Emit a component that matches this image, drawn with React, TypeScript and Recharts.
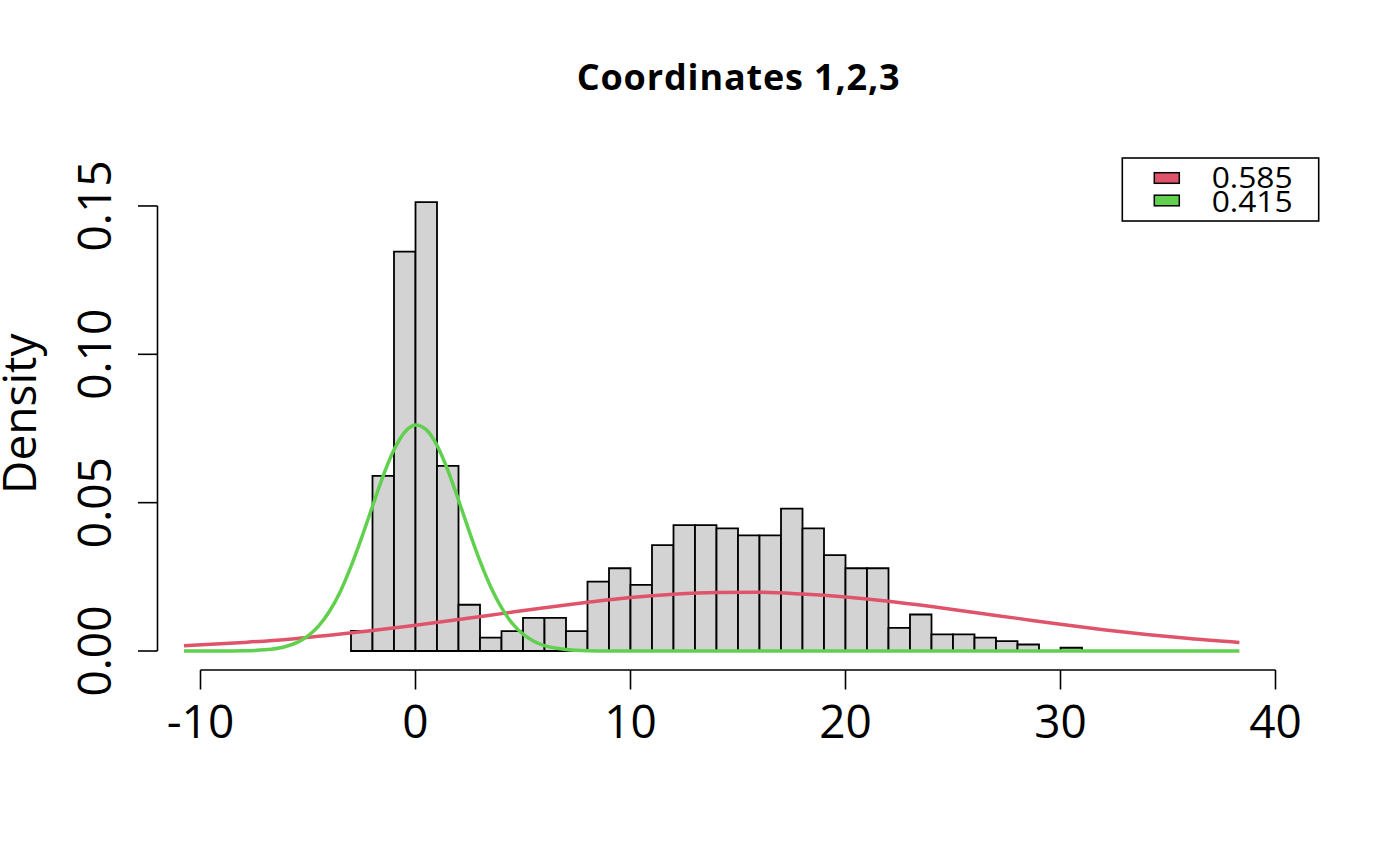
import { ComposedChart, XAxis, YAxis, Line, ReferenceArea, ReferenceLine } from 'recharts'

// histogram breaks and densities
const binEdges = [-3, -2, -1, 0, 1, 2, 3, 4, 5, 6, 7, 8, 9, 10, 11, 12, 13, 14, 15, 16, 17, 18, 19, 20, 21, 22, 23, 24, 25, 26, 27, 28, 29, 30, 31]
const binDensity = [
    0.0068, 0.0590, 0.1346, 0.1513, 0.0624, 0.0156, 0.0045, 0.0067, 0.0112, 0.0112,
    0.0067, 0.0234, 0.0279, 0.0223, 0.0357, 0.0424, 0.0424, 0.0413, 0.0390, 0.0390,
    0.0480, 0.0413, 0.0323, 0.0279, 0.0279, 0.0078, 0.0123, 0.0056, 0.0056, 0.0045,
    0.0033, 0.0022, 0, 0.0011,
]

// component curves
const redX = [-10.77, -8, -6, -4, -2, 0, 2, 4, 6, 8, 10, 12, 14, 16, 18, 20, 22, 24, 26, 28, 30, 32, 34, 36, 38.32]
const redY = [0.0018, 0.0029, 0.0039, 0.0053, 0.0069, 0.0087, 0.0106, 0.0126, 0.0146, 0.0164, 0.0180, 0.0191, 0.0197, 0.0198, 0.0192, 0.0182, 0.0168, 0.0150, 0.0130, 0.0110, 0.0090, 0.0072, 0.0056, 0.0042, 0.0029]

const greenX = [-10.77, -9, -8, -7, -6, -5.5, -5, -4.5, -4, -3.5, -3, -2.5, -2, -1.5, -1, -0.5, 0, 0.5, 1, 1.5, 2, 2.5, 3, 3.5, 4, 4.5, 5, 5.5, 6, 7, 8, 9, 12, 20, 30, 38.32]
const greenY = [0, 0.00001, 0.00008, 0.00039, 0.0016, 0.0029, 0.0051, 0.0085, 0.0134, 0.0200, 0.0285, 0.0383, 0.0488, 0.0591, 0.0678, 0.0738, 0.0762, 0.0746, 0.0693, 0.0610, 0.0509, 0.0403, 0.0303, 0.0216, 0.0146, 0.0093, 0.0057, 0.0033, 0.0018, 0.0005, 0.0001, 0, 0, 0, 0, 0]

const xTicks = [-10, 0, 10, 20, 30, 40]
const yTicks = [0, 0.05, 0.1, 0.15]

const legendLabels = ['0.585', '0.415']
const legendColors = ['#DF536B', '#61D04F']

const FONT = '"Open Sans", sans-serif'

const redData = redX.map((x, i) => ({ x, y: redY[i] }))
const greenData = greenX.map((x, i) => ({ x, y: greenY[i] }))

const XTick = (p: any) => (
    <g>
        <line x1={p.x} x2={p.x} y1={p.y} y2={p.y + 19.5} stroke="#000" strokeWidth={1.6} />
        <text x={p.x} y={p.y + 68} textAnchor="middle" fontFamily={FONT} fontSize={46} fill="#000">
            {p.payload.value}
        </text>
    </g>
)

const YTick = (p: any) => (
    <g>
        <line x1={p.x} x2={p.x - 19.5} y1={p.y} y2={p.y} stroke="#000" strokeWidth={1.6} />
        <text
            x={p.x - 46.5}
            y={p.y}
            transform={`rotate(-90, ${p.x - 46.5}, ${p.y})`}
            textAnchor="middle"
            fontFamily={FONT}
            fontSize={46}
            fill="#000"
        >
            {Number(p.payload.value).toFixed(2)}
        </text>
    </g>
)

export default function App() {
    return (
        <div style={{ position: 'absolute', left: 0, top: 0, width: 1400, height: 866, background: '#fff' }}>
            <ComposedChart width={1400} height={866} margin={{ top: 157.3, right: 81.5, bottom: 0, left: 0 }}>
                <XAxis
                    dataKey="x"
                    type="number"
                    domain={[-12, 42]}
                    ticks={xTicks}
                    interval={0}
                    allowDataOverflow
                    height={196}
                    axisLine={false}
                    tickLine={false}
                    tickSize={0}
                    tickMargin={0}
                    tick={XTick}
                />
                <YAxis
                    type="number"
                    domain={[-0.0064, 0.1664]}
                    ticks={yTicks}
                    interval={0}
                    allowDataOverflow
                    width={157.5}
                    axisLine={false}
                    tickLine={false}
                    tickSize={0}
                    tickMargin={0}
                    tick={YTick}
                />
                {binDensity.map((d, i) => (
                    <ReferenceArea
                        key={`bin-${i}`}
                        x1={binEdges[i]}
                        x2={binEdges[i + 1]}
                        y1={0}
                        y2={d}
                        fill="#D3D3D3"
                        fillOpacity={1}
                        stroke="#000"
                        strokeWidth={1.8}
                        ifOverflow="visible"
                    />
                ))}
                <ReferenceLine
                    segment={[{ x: xTicks[0], y: -0.0064 }, { x: xTicks[xTicks.length - 1], y: -0.0064 }]}
                    stroke="#000"
                    strokeWidth={1.6}
                    ifOverflow="visible"
                />
                <ReferenceLine
                    segment={[{ x: -12, y: yTicks[0] }, { x: -12, y: yTicks[yTicks.length - 1] }]}
                    stroke="#000"
                    strokeWidth={1.6}
                    ifOverflow="visible"
                />
                <Line data={redData} dataKey="y" type="monotone" stroke={legendColors[0]} strokeWidth={3.5} dot={false} isAnimationActive={false} />
                <Line data={greenData} dataKey="y" type="monotone" stroke={legendColors[1]} strokeWidth={3.5} dot={false} isAnimationActive={false} />
            </ComposedChart>

            {/* title, y label and legend drawn on top */}
            <svg width={1400} height={866} style={{ position: 'absolute', left: 0, top: 0, pointerEvents: 'none' }}>
                <text
                    x={576.7}
                    y={89.5}
                    fontFamily={FONT}
                    fontWeight="bold"
                    fontSize={36}
                    textLength={323}
                    lengthAdjust="spacing"
                    fill="#000"
                >
                    Coordinates 1,2,3
                </text>
                <text
                    x={36}
                    y={413.7}
                    transform="rotate(-90, 36, 413.7)"
                    textAnchor="middle"
                    fontFamily={FONT}
                    fontSize={46}
                    fill="#000"
                >
                    Density
                </text>
                <rect x={1122.3} y={158} width={196.4} height={63} fill="#fff" stroke="#000" strokeWidth={1.6} />
                {legendLabels.map((lab, i) => (
                    <g key={lab}>
                        <rect x={1154.3} y={172.7 + i * 22.5} width={25} height={10.6} fill={legendColors[i]} stroke="#000" strokeWidth={1.5} />
                        <text x={1211.7} y={188.3 + i * 23.4} fontFamily={FONT} fontSize={30} textLength={81} lengthAdjust="spacingAndGlyphs" fill="#000">
                            {lab}
                        </text>
                    </g>
                ))}
            </svg>
        </div>
    )
}
